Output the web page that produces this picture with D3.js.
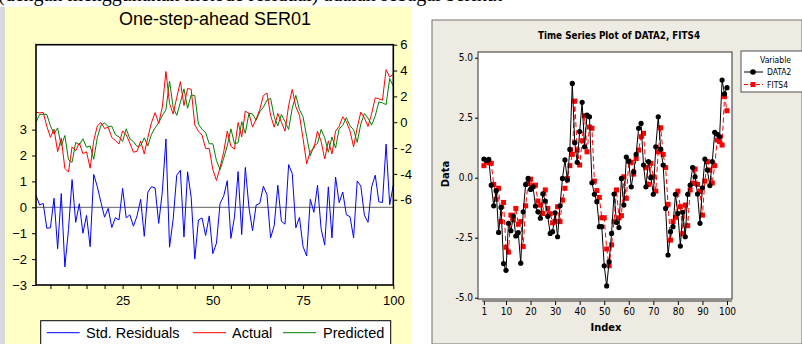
<!DOCTYPE html>
<html>
<head>
<meta charset="utf-8">
<script src="https://cdn.jsdelivr.net/npm/d3@7/dist/d3.min.js"></script>
<style>
  body { margin: 0; background: #fff; }
  svg { display: block; }
</style>
</head>
<body>
<svg id="fig" width="802" height="344"></svg>
<script>
// index 1..100
const index = d3.range(1, 101);
// actual series (DATA2 / Actual)
const data2 = [0.78,0.72,0.76,-0.31,-1.17,-0.54,-2.28,-1.24,-3.58,-3.86,
  -1.90,-2.21,-1.60,-2.43,-2.29,-3.56,-1.42,-0.28,-0.03,-0.49,
  -0.38,-1.18,-1.42,-1.69,-0.67,-0.97,-1.61,-2.32,-2.25,-1.46,
  -2.46,-1.17,-0.03,0.74,-0.10,1.18,3.93,1.46,0.64,1.92,
  3.14,1.29,2.61,2.54,-0.21,-0.69,-1.00,-2.04,-2.04,-3.67,
  -4.51,-3.50,-2.32,-0.68,-1.86,-2.08,-0.03,-1.14,0.86,0.69,
  -0.38,0.25,0.97,2.06,2.26,0.53,-0.38,0.67,0.00,-0.69,
  1.29,2.54,1.19,0.53,-1.28,-3.22,-2.25,-2.04,-0.69,-1.49,
  -2.85,-1.44,-2.46,-0.69,-0.31,0.42,0.04,-0.68,-1.90,-0.42,
  0.78,0.32,-0.33,0.67,1.89,1.81,1.71,4.07,3.49,3.75];
// one-step fits (FITS4)
const fits4 = [0.50,0.67,0.62,0.60,-0.28,-0.90,-0.44,-1.83,-1.03,-2.90,
  -3.10,-1.56,-1.76,-1.28,-1.94,-1.83,-2.87,-1.17,-0.24,-0.06,
  -0.33,-0.31,-0.97,-1.14,-1.49,-0.51,-1.28,-1.50,-1.88,-1.81,
  -1.21,-1.83,-0.93,-0.44,-0.03,0.50,0.97,3.19,1.15,0.53,
  1.54,2.58,1.08,2.11,2.06,-0.14,-0.54,-0.82,-1.67,-1.67,
  -2.97,-3.67,-2.80,-1.83,-0.51,-1.67,-1.58,0.04,-0.86,0.69,
  0.64,0.15,0.80,1.15,1.71,1.85,0.42,-0.28,0.60,0.04,
  -0.56,1.08,2.08,0.97,0.42,-1.11,-2.60,-1.83,-1.65,-0.56,
  -1.21,-2.33,-1.14,-2.00,-0.51,-0.24,0.36,-0.28,-0.58,-1.56,
  -0.14,0.67,0.32,-0.22,0.50,1.57,1.50,1.36,3.38,2.79];
// predicted in the left panel (same fits, first point differs)
const predicted = [0.00,0.60,0.62,0.60,-0.28,-0.90,-0.44,-1.83,-1.03,-2.90,
  -3.10,-1.56,-1.76,-1.28,-1.94,-1.83,-2.87,-1.17,-0.24,-0.06,
  -0.33,-0.31,-0.97,-1.14,-1.49,-0.51,-1.28,-1.50,-1.88,-1.81,
  -1.21,-1.83,-0.93,-0.44,-0.03,0.50,0.97,3.19,1.15,0.53,
  1.54,2.58,1.08,2.11,2.06,-0.14,-0.54,-0.82,-1.67,-1.67,
  -2.97,-3.67,-2.80,-1.83,-0.51,-1.67,-1.58,0.04,-0.86,0.69,
  0.64,0.15,0.80,1.15,1.71,1.85,0.42,-0.28,0.60,0.04,
  -0.56,1.08,2.08,0.97,0.42,-1.11,-2.60,-1.83,-1.65,-0.56,
  -1.21,-2.33,-1.14,-2.00,-0.51,-0.24,0.36,-0.28,-0.58,-1.56,
  -0.14,0.67,0.32,-0.22,0.50,1.57,1.50,1.36,3.38,2.79];
// standardized residuals
const residuals = [0.47,0.09,0.15,-0.81,-0.79,0.35,-1.60,0.53,-2.30,-0.86,
  1.07,-0.58,0.14,-1.00,-0.31,-1.52,1.27,0.79,0.19,-0.38,
  -0.04,-0.78,-0.40,-0.49,0.73,-0.41,-0.29,-0.73,-0.33,0.31,
  -1.12,0.59,0.80,0.75,-0.62,0.60,2.64,-1.54,-0.46,1.24,
  1.43,-1.15,1.37,0.38,-2.00,-0.49,-0.41,-1.09,-0.33,-1.79,
  -1.38,0.15,0.43,1.03,-1.20,-0.37,1.38,-1.05,1.54,0.00,
  -0.91,0.09,0.15,0.81,0.49,-1.18,-0.71,0.85,-0.54,-0.65,
  1.65,1.30,-0.79,-0.39,-1.52,-1.88,0.31,-0.19,0.86,-0.83,
  -1.46,0.79,-1.18,1.17,0.18,0.59,-0.29,-0.36,-1.18,1.02,
  0.82,-0.31,-0.58,0.79,1.24,0.21,0.19,2.44,0.10,0.86];

const resTicks = [-3, -2, -1, 0, 1, 2, 3];
const levelTicks = [-6, -4, -2, 0, 2, 4, 6];
const xMinorLeft = [5,10,15,20,25,30,35,40,45,50,55,60,65,70,75,80,85,90,95,100];
const xLabelsLeft = [25, 50, 75, 100];
const yTicksRight = [-5, -2.5, 0, 2.5, 5];
const xTicksRight = [1, 10, 20, 30, 40, 50, 60, 70, 80, 90, 100];
const legendLeft = ["Std. Residuals", "Actual", "Predicted"];
const legendRight = ["DATA2", "FITS4"];

const svg = d3.select("#fig");
const arial = "'Liberation Sans', Arial, sans-serif";
const narrow = "'DejaVu Sans Condensed', 'Liberation Sans Narrow', sans-serif";

// clipped line of text from the page above
svg.append("text").attr("x", -2).attr("y", 1)
  .attr("font-family", "'Liberation Serif', serif").attr("font-size", 20)
  .text("(dengan menggunakan metode residual) adalah sebagai berikut");

// ---------------- left chart (EViews style) ----------------
svg.append("rect").attr("x", 0).attr("y", 7).attr("width", 5).attr("height", 337).attr("fill", "#d9d9d9");
svg.append("rect").attr("x", 5).attr("y", 7).attr("width", 407).attr("height", 337).attr("fill", "#ffffc6");

svg.append("text").attr("x", 215).attr("y", 25).attr("text-anchor", "middle")
  .attr("font-family", arial).attr("font-size", 18).text("One-step-ahead SER01");

const L = { left: 36, right: 393.3, top: 44.7, bottom: 285 };
const xL = d3.scaleLinear().domain([1, 100]).range([L.left, L.right]);
const yRes = d3.scaleLinear().domain([-3, 6.28]).range([L.bottom, L.top]);
const yLev = d3.scaleLinear().domain([-12.6, 6]).range([L.bottom, L.top]);

svg.append("rect").attr("x", L.left).attr("y", L.top)
  .attr("width", L.right - L.left).attr("height", L.bottom - L.top).attr("fill", "#fff");

svg.append("defs").append("clipPath").attr("id", "clipL")
  .append("rect").attr("x", L.left).attr("y", L.top)
  .attr("width", L.right - L.left).attr("height", L.bottom - L.top);

const gL = svg.append("g").attr("clip-path", "url(#clipL)");
gL.append("line").attr("x1", L.left).attr("x2", L.right)
  .attr("y1", yRes(0)).attr("y2", yRes(0)).attr("stroke", "#808080").attr("stroke-width", 1.2);

const lineRes = d3.line().x((d, i) => xL(index[i])).y(d => yRes(d));
const lineLev = d3.line().x((d, i) => xL(index[i])).y(d => yLev(d));
gL.append("path").datum(predicted).attr("d", lineLev).attr("fill", "none").attr("stroke", "#008000").attr("stroke-width", 1);
gL.append("path").datum(data2).attr("d", lineLev).attr("fill", "none").attr("stroke", "#ff0000").attr("stroke-width", 1);
gL.append("path").datum(residuals).attr("d", lineRes).attr("fill", "none").attr("stroke", "#0000ff").attr("stroke-width", 1);

svg.append("rect").attr("x", L.left).attr("y", L.top)
  .attr("width", L.right - L.left).attr("height", L.bottom - L.top)
  .attr("fill", "none").attr("stroke", "#000").attr("stroke-width", 1.6);

const styleAxis = (g, font, size) => {
  g.select(".domain").remove();
  g.selectAll("text").attr("font-family", font).attr("font-size", size).attr("fill", "#000");
  g.selectAll("line").attr("stroke", "#000");
};

svg.append("g").attr("transform", `translate(${L.left},0)`)
  .call(d3.axisLeft(yRes).tickValues(resTicks).tickSize(4).tickPadding(5).tickFormat(d3.format("d")))
  .call(g => styleAxis(g, arial, 13));

svg.append("g").attr("transform", `translate(${L.right},0)`)
  .call(d3.axisRight(yLev).tickValues(levelTicks).tickSize(4).tickPadding(3).tickFormat(d => d3.format("d")(d).replace("−", "-")))
  .call(g => styleAxis(g, arial, 13));

svg.append("g").attr("transform", `translate(0,${L.bottom})`)
  .call(d3.axisBottom(xL).tickValues(xMinorLeft).tickSize(4).tickPadding(7)
    .tickFormat(d => xLabelsLeft.includes(d) ? d : ""))
  .call(g => styleAxis(g, arial, 13));

// left legend
const lg = svg.append("g");
lg.append("rect").attr("x", 40.7).attr("y", 320.7).attr("width", 350).attr("height", 30)
  .attr("fill", "#fff").attr("stroke", "#000").attr("stroke-width", 1);
const legColors = ["#0000ff", "#ff0000", "#008000"];
const legLineX = [46.7, 193, 283];
const legTextX = [86, 232, 323];
legendLeft.forEach((name, i) => {
  lg.append("line").attr("x1", legLineX[i]).attr("x2", legLineX[i] + 33)
    .attr("y1", 332.7).attr("y2", 332.7).attr("stroke", legColors[i]).attr("stroke-width", 1);
  lg.append("text").attr("x", legTextX[i]).attr("y", 337.5)
    .attr("font-family", arial).attr("font-size", 14.5).text(name);
});

// ---------------- right chart (Minitab style) ----------------
svg.append("rect").attr("x", 432).attr("y", 20).attr("width", 370).attr("height", 324)
  .attr("fill", "#eeebe2").attr("stroke", "#707070").attr("stroke-width", 1);

svg.append("text").attr("x", 619).attr("y", 39).attr("text-anchor", "middle")
  .attr("font-family", narrow).attr("font-weight", "bold").attr("font-size", 11)
  .attr("textLength", 162).attr("lengthAdjust", "spacingAndGlyphs")
  .text("Time Series Plot of DATA2, FITS4");

const R = { left: 478, right: 732, top: 52, bottom: 299 };
const xR = d3.scaleLinear().domain([1, 100]).range([483.9, 727]);
const yR = d3.scaleLinear().domain([-5, 5]).range([297.7, 57.7]);

svg.append("rect").attr("x", R.left).attr("y", R.top)
  .attr("width", R.right - R.left).attr("height", R.bottom - R.top)
  .attr("fill", "#fff").attr("stroke", "#303030").attr("stroke-width", 1);

svg.append("g").attr("transform", `translate(${R.left},0)`)
  .call(d3.axisLeft(yR).tickValues(yTicksRight).tickSize(3).tickPadding(2)
    .tickFormat(d => d3.format(".1f")(d).replace("−", "-")))
  .call(g => styleAxis(g, narrow, 10));

svg.append("g").attr("transform", `translate(0,${R.bottom + 2})`)
  .call(d3.axisBottom(xR).tickValues(xTicksRight).tickSize(4).tickPadding(3))
  .call(g => {
    styleAxis(g, narrow, 10);
    g.append("line").attr("x1", R.left + 4).attr("x2", R.right).attr("stroke", "#303030");
  });

svg.append("text").attr("transform", "translate(449,174) rotate(-90)").attr("text-anchor", "middle")
  .attr("font-family", narrow).attr("font-weight", "bold").attr("font-size", 11).text("Data");
svg.append("text").attr("x", 606).attr("y", 331).attr("text-anchor", "middle")
  .attr("font-family", narrow).attr("font-weight", "bold").attr("font-size", 11).text("Index");

const gR = svg.append("g");
const lineR = d3.line().x((d, i) => xR(index[i])).y(d => yR(d));
gR.append("path").datum(fits4).attr("d", lineR).attr("fill", "none")
  .attr("stroke", "#ff0000").attr("stroke-width", 1).attr("stroke-dasharray", "5,3");
gR.selectAll("rect.fit").data(fits4).join("rect").attr("class", "fit")
  .attr("x", (d, i) => xR(index[i]) - 2.5).attr("y", d => yR(d) - 2.5)
  .attr("width", 5).attr("height", 5).attr("fill", "#ff0000");
gR.append("path").datum(data2).attr("d", lineR).attr("fill", "none")
  .attr("stroke", "#000").attr("stroke-width", 1);
gR.selectAll("circle.obs").data(data2).join("circle").attr("class", "obs")
  .attr("cx", (d, i) => xR(index[i])).attr("cy", d => yR(d)).attr("r", 2.6).attr("fill", "#000");

// right legend
const rg = svg.append("g");
rg.append("rect").attr("x", 741).attr("y", 51).attr("width", 62).attr("height", 41)
  .attr("fill", "#fff").attr("stroke", "#505050").attr("stroke-width", 1);
rg.append("text").attr("x", 791).attr("y", 63).attr("text-anchor", "end")
  .attr("font-family", narrow).attr("font-size", 8.5).text("Variable");
legendRight.forEach((name, i) => {
  const yy = 72 + i * 12.5;
  rg.append("line").attr("x1", 744).attr("x2", 763).attr("y1", yy).attr("y2", yy)
    .attr("stroke", i === 0 ? "#000" : "#ff0000").attr("stroke-dasharray", i === 0 ? null : "4,2");
  if (i === 0) rg.append("circle").attr("cx", 753).attr("cy", yy).attr("r", 2.8).attr("fill", "#000");
  else rg.append("rect").attr("x", 750.5).attr("y", yy - 2.5).attr("width", 5).attr("height", 5).attr("fill", "#ff0000");
  rg.append("text").attr("x", 767).attr("y", yy + 3).attr("font-family", narrow).attr("font-size", 8.5).text(name);
});
</script>
</body>
</html>
